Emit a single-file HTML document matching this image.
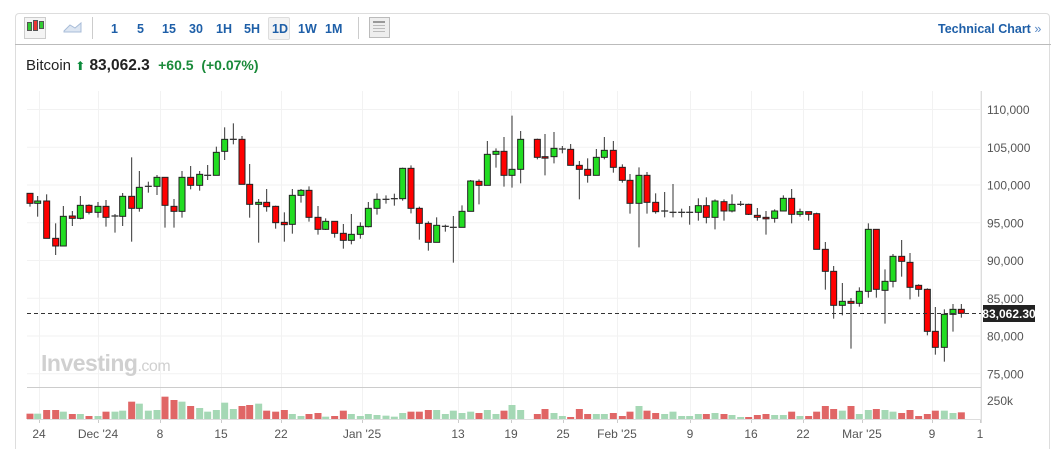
<!DOCTYPE html>
<html><head><meta charset="utf-8"><style>
html,body{margin:0;width:1059px;height:449px;background:#fff;font-family:"Liberation Sans",sans-serif;overflow:hidden;position:relative}
.frame{position:absolute;left:15px;top:13px;width:1035px;height:436px;border:1px solid #ddd;border-bottom:none;border-radius:4px 4px 0 0;box-sizing:border-box}
.tb{position:absolute;left:15px;top:13px;width:1036px;height:31px;border-bottom:1px solid #bbb}
.tb span{position:absolute;top:9px;font-size:12.5px;font-weight:bold;color:#1e5fa8}
.t{position:absolute}
</style></head><body>
<div class="frame"></div>
<div class="tb">
<div class="t" style="left:9px;top:4px;width:20px;height:20px;border:1px solid #ccc;background:#f4f4f4"></div>
<div class="t" style="left:12px;top:9px;width:3px;height:7px;background:#3c3;border:1px solid #555"></div>
<div class="t" style="left:18px;top:7px;width:3px;height:9px;background:#e33;border:1px solid #555"></div>
<div class="t" style="left:24px;top:8px;width:3px;height:6px;background:#3c3;border:1px solid #555"></div>
<svg class="t" style="left:48px;top:8px" width="20" height="12"><path d="M1 10 L7 4 L12 7 L18 2 L18 11 L1 11Z" fill="#dde6f2" stroke="#a8bcd8"/></svg>
<div class="t" style="left:77px;top:4px;width:1px;height:22px;background:#ccc"></div>
<span style="left:96px">1</span><span style="left:122px">5</span><span style="left:147px">15</span><span style="left:174px">30</span><span style="left:201px">1H</span><span style="left:229px">5H</span>
<div class="t" style="left:253px;top:4px;width:20px;height:21px;border:1px solid #ddd;background:#f3f3f3;border-radius:2px"></div>
<span style="left:257px">1D</span><span style="left:283px">1W</span><span style="left:310px">1M</span>
<div class="t" style="left:343px;top:4px;width:1px;height:22px;background:#ccc"></div>
<div class="t" style="left:354px;top:4px;width:19px;height:19px;border:1px solid #bbb;background:#eee"></div>
<div class="t" style="left:358px;top:8px;width:12px;height:11px;border-top:2px solid #999;background:repeating-linear-gradient(#eee 0 2px,#bbb 2px 3px)"></div>
<span style="left:923px">Technical Chart <span style="position:static;font-weight:normal;color:#5a8ac6">»</span></span>
</div>
<div class="t" style="left:26px;top:57px;font-size:15px;color:#222">Bitcoin <span style="color:#0a8a3a;font-size:12px">&#11014;</span> <b style="font-size:15.5px">83,062.3</b> &nbsp;<b style="color:#1a8a3a;font-size:14px">+60.5 &nbsp;(+0.07%)</b></div>
<svg id="c" class="t" style="left:0;top:0" width="1059" height="449"></svg>
<script>
var s='';
function L(x1,y1,x2,y2,c,w,d){s+='<line x1="'+x1+'" y1="'+y1+'" x2="'+x2+'" y2="'+y2+'" stroke="'+c+'" stroke-width="'+(w||1)+'"'+(d?' stroke-dasharray="'+d+'"':'')+'/>';}
function T(x,y,t,a,c,sz,fw){s+='<text x="'+x+'" y="'+y+'" font-size="'+(sz||12)+'" fill="'+(c||'#555')+'" text-anchor="'+(a||'start')+'"'+(fw?' font-weight="'+fw+'"':'')+'>'+t+'</text>';}
var dates=[[39,'24'],[98,"Dec '24"],[160,'8'],[221,'15'],[281,'22'],[362,"Jan '25"],[458,'13'],[511,'19'],[563,'25'],[617,"Feb '25"],[690,'9'],[751,'16'],[803,'22'],[862,"Mar '25"],[932,'9'],[980,'1']];
dates.forEach(function(d){L(d[0]+.5,91,d[0]+.5,419,'#f2f2f2');L(d[0]+.5,419,d[0]+.5,423,'#ccc');T(d[0],438,d[1],'middle','#555',12);});
var pr=['110,000','105,000','100,000','95,000','90,000','85,000','80,000','75,000'];
for(var i=0;i<8;i++){var y=109.5+i*37.75;L(27,y,981,y,'#f2f2f2');T(987,y+4.5,pr[i],'start','#555',12);}
L(981.5,91,981.5,423,'#ddd');L(27,387.5,981,387.5,'#ccc');L(27,419.5,981,419.5,'#ddd');
T(987,405,'250k','start','#555',12);
s+='<text x="41" y="371" font-size="23" font-weight="bold" fill="#d0d0d0" letter-spacing="-0.5">Investing<tspan font-size="16" font-weight="normal">.com</tspan></text>';
var A=[[90,280,310,280,320,0],[113,303,310,288,350,1],[140,303,415,283,415,0],[167,415,438,370,465,0],[190,349,438,318,438,1],[217,348,355,333,378,0],[241,316,355,288,358,1],[267,316,337,313,343,0],[294,319,337,306,353,1],[318,319,352,300,380,0],[345,348,349,342,398,2],[368,289,349,279,378,1],[395,289,325,172,425,0],[418,262,325,213,335,1],[445,259,260,245,278,2],[471,232,259,225,285,1],[495,232,316,232,383,0],[522,319,334,297,383,0],[546,232,334,213,353,1],[572,232,256,198,268,0],[599,223,256,213,272,1],[623,226,227,195,240,2],[649,157,226,140,226,1],[674,118,154,82,180,1],[700,118,119,70,133,2],[726,118,253,108,253,0],[749,253,313,192,353,0],[776,307,313,297,428,1],[800,307,320,267,335,0],[827,319,368,317,386,0],[853,367,374,337,425,0],[877,286,373,267,401,1],[903,271,286,267,308,1],[927,271,352,259,365,0],[954,352,388,318,404,0],[977,364,388,355,390,1],[1004,364,400,364,413,0],[1030,400,421,372,446,0],[1054,403,421,342,433,1],[1081,379,403,367,416,1],[1105,325,380,306,382,1],[1131,298,325,280,344,1],[1158,298,299,286,311,2],[1183,296,297,281,317,2],[1208,205,296,203,302,1],[1233,205,325,196,340,0],[1258,325,370,320,419,0],[1285,370,427,364,452,0],[1310,376,427,352,427,1],[1336,379,380,374,395,2],[1360,382,383,348,488,2],[1386,334,382,316,382,1],[1412,243,334,240,334,1],[1437,244,256,238,313,0],[1462,163,256,123,256,1],[1488,154,163,145,203,1],[1512,154,226,111,260,0],[1536,208,226,47,263,1],[1562,118,208,93,250,1]];
var B=[[22,118,172,116,178,0],[45,170,172,102,226,0],[72,145,170,96,190,1],[97,147,148,138,160,2],[122,148,196,132,196,0],[148,196,208,183,298,0],[173,208,226,175,248,0],[199,172,226,147,226,1],[223,151,172,111,178,1],[250,151,202,123,218,0],[277,202,241,193,248,0],[300,241,310,222,341,0],[327,226,310,202,442,1],[351,226,307,216,341,0],[377,307,335,280,341,0],[404,333,334,276,352,2],[429,337,338,252,352,2],[455,337,338,326,352,2],[479,337,338,318,374,2],[505,317,337,295,362,1],[529,317,352,292,370,0],[555,303,352,298,388,1],[582,305,333,298,362,0],[606,313,333,283,337,1],[632,313,314,303,318,2],[656,313,343,311,345,0],[682,346,352,324,362,0],[708,352,355,333,404,0],[734,333,355,328,368,1],[760,295,333,286,333,1],[785,295,343,267,370,0],[810,335,343,326,350,1],[836,335,343,335,362,0],[860,341,448,338,448,0],[886,448,514,426,569,0],[911,514,616,498,656,0],[937,604,616,549,646,1],[963,604,610,594,746,0],[988,574,610,562,620,1],[1015,388,574,370,593,1],[1039,388,568,388,593,0],[1065,544,571,508,671,1],[1089,469,544,462,562,1],[1115,469,484,420,530,0],[1140,487,562,459,598,0],[1166,556,568,553,590,0],[1192,568,694,565,706,0],[1216,694,742,621,764,0],[1243,643,742,628,785,1],[1269,628,643,612,695,1],[1294,628,640,612,653,0]];
var V=[222,222,211,211,216,223,223,229,229,216,216,213,186,192,213,211,171,181,186,199,205,216,211,189,208,199,196,192,213,216,211,223,229,223,220,231,229,213,223,229,223,226,228,231,220,216,216,211,211,223,213,220,216,220,211,223,213,196,211,
223,208,220,229,232,208,223,223,223,220,229,216,199,213,220,223,216,229,229,223,223,220,223,226,232,232,226,223,226,226,216,229,229,216,199,208,213,199,223,211,208,211,216,220,211,229,223,213,213,220,218];
var all=[];A.forEach(function(c){all.push([c[0]/3,c])});B.forEach(function(c){all.push([530+c[0]/3,c])});
all.forEach(function(e,i){var x=e[0],c=e[1],col=c[5]==0?'#f00':(c[5]==1?'#2d2':'#333');
var y1=100+c[1]/3,y2=100+c[2]/3,w1=100+c[3]/3,w2=100+c[4]/3;
var vh=(238-(V[i]||225))/3,vc=c[5]==0?'#e06666':'#a5d8b5';
s+='<rect x="'+(x-3.5)+'" y="'+(419-vh)+'" width="7" height="'+vh+'" fill="'+vc+'"/>';
L(x,w1,x,w2,'#333');
if(c[5]==2){L(x-3.5,y1,x+3.5,y1,'#333',1.3);}
else s+='<rect x="'+(x-3)+'" y="'+y1+'" width="6" height="'+Math.max(y2-y1,1.5)+'" fill="'+col+'" stroke="#222" stroke-width="1"/>';});
L(27,313.5,981,313.5,'#333',1,'4,3');
s+='<rect x="983" y="305" width="52" height="17" fill="#222"/>';T(1009,318,'83,062.30','middle','#fff',12,'bold');
document.getElementById('c').innerHTML=s;
</script>
</body></html>
